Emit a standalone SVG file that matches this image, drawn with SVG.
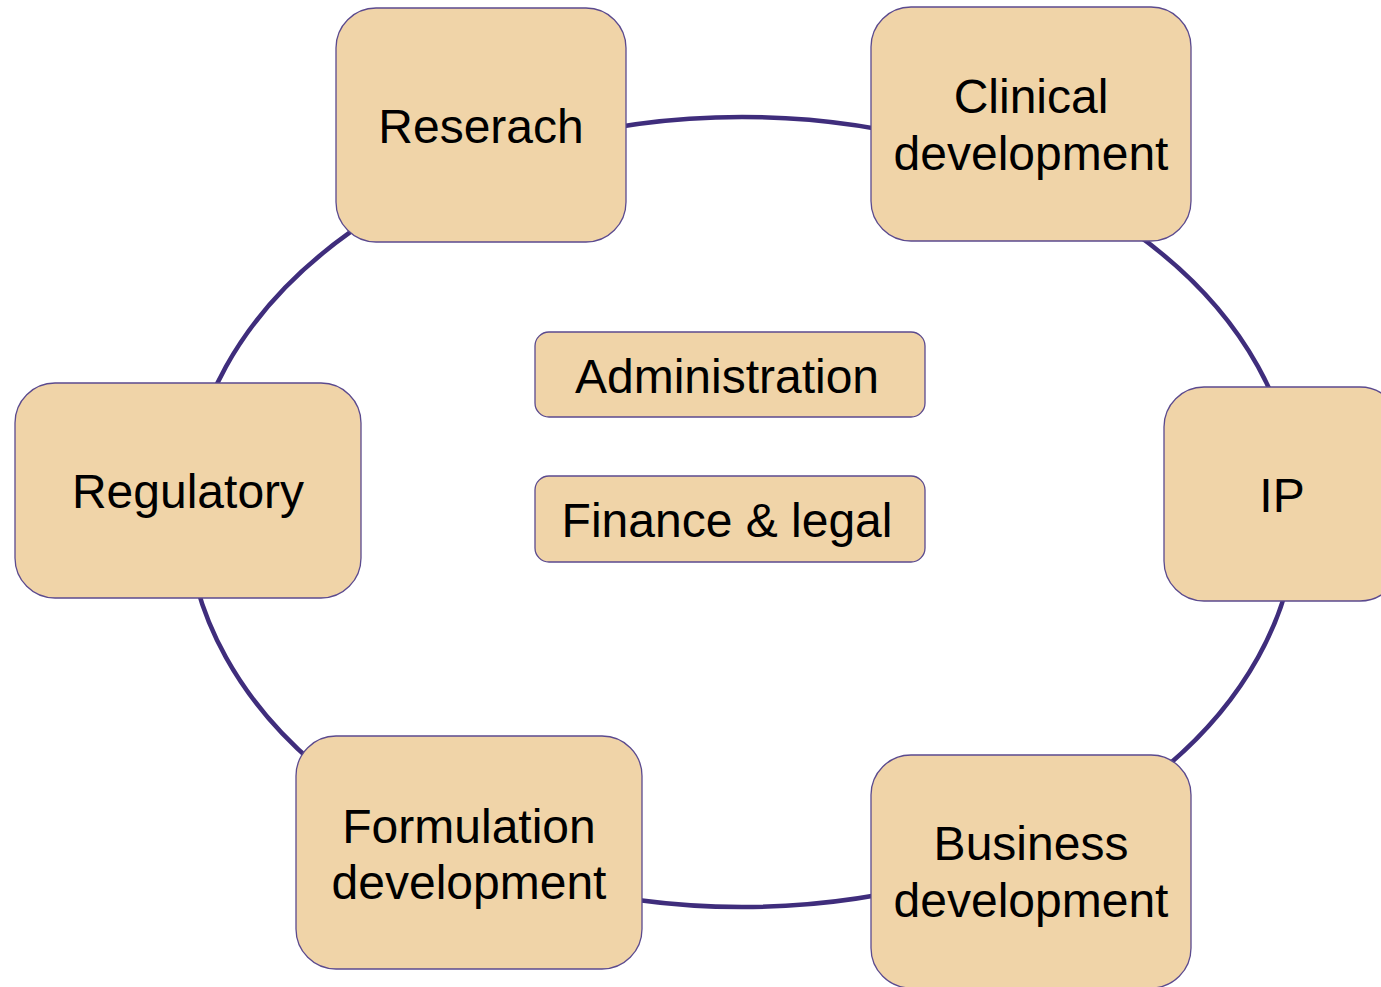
<svg xmlns="http://www.w3.org/2000/svg" width="1381" height="987" viewBox="0 0 1381 987">
<style>
.box{fill:#f0d4a8;stroke:#5b4a8e;stroke-width:1.3}
.lbl{font-family:"Liberation Sans",Arial,sans-serif;font-size:48px;fill:#000;text-anchor:middle}
.ring{fill:none;stroke:#3f2d7c;stroke-width:4.5}
</style>
<rect width="1381" height="987" fill="#fff"/>
<g id="connectors">
<ellipse class="ring" cx="742" cy="512" rx="555" ry="395"/>
</g>
<g id="research">
<rect class="box" x="336" y="8" width="290" height="234" rx="40"/>
<text class="lbl" x="481" y="143">Reserach</text>
</g>
<g id="clinical">
<rect class="box" x="871" y="7" width="320" height="234" rx="40"/>
<text class="lbl" x="1031" y="113">Clinical</text>
<text class="lbl" x="1031" y="170">development</text>
</g>
<g id="ip">
<rect class="box" x="1164" y="387" width="236" height="214" rx="40"/>
<text class="lbl" x="1282" y="512">IP</text>
</g>
<g id="regulatory">
<rect class="box" x="15" y="383" width="346" height="215" rx="40"/>
<text class="lbl" x="188" y="508">Regulatory</text>
</g>
<g id="formulation">
<rect class="box" x="296" y="736" width="346" height="233" rx="40"/>
<text class="lbl" x="469" y="843">Formulation</text>
<text class="lbl" x="469" y="899">development</text>
</g>
<g id="business">
<rect class="box" x="871" y="755" width="320" height="233" rx="40"/>
<text class="lbl" x="1031" y="860">Business</text>
<text class="lbl" x="1031" y="917">development</text>
</g>
<g id="administration">
<rect class="box" x="535" y="332" width="390" height="85" rx="14"/>
<text class="lbl" x="727" y="393">Administration</text>
</g>
<g id="finance">
<rect class="box" x="535" y="476" width="390" height="86" rx="14"/>
<text class="lbl" x="727" y="537">Finance &amp; legal</text>
</g>
</svg>
